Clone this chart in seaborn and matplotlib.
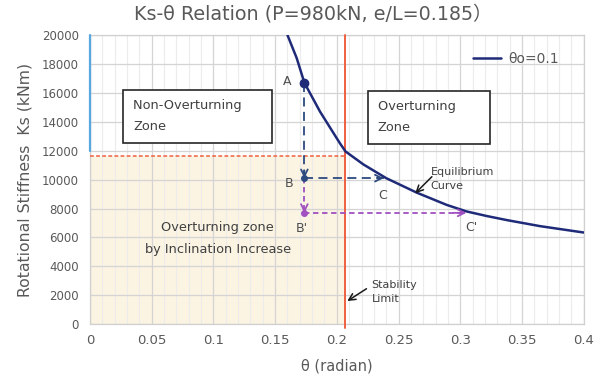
import numpy as np
import pandas as pd
import matplotlib
matplotlib.use("Agg")
import matplotlib.pyplot as plt
import seaborn as sns
from matplotlib.ticker import MultipleLocator
from matplotlib.patches import Rectangle

# Equilibrium curve (theta in radian, Ks in kNm)
theta = [0.160, 0.1675, 0.1737, 0.1864, 0.200, 0.2026, 0.207, 0.2215, 0.240, 0.2647,
         0.289, 0.305, 0.3215, 0.3377, 0.3647, 0.400]
ks = [20000, 18400, 16700, 14700, 12850, 12500, 11950, 11050, 10100, 9100,
      8250, 7800, 7480, 7200, 6780, 6340]

# Key states
theta_limit = 0.207       # stability limit
ks_limit = 11600          # stiffness limit of the overturning zone
point_names = ["A", "B", "C", "B'", "C'"]
point_theta = [0.1737, 0.1737, 0.238, 0.1737, 0.305]
point_ks = [16700, 10100, 10100, 7700, 7700]

x_ticks = [0, 0.05, 0.1, 0.15, 0.2, 0.25, 0.3, 0.35, 0.4]
x_tick_labels = ["0", "0.05", "0.1", "0.15", "0.2", "0.25", "0.3", "0.35", "0.4"]
y_ticks = list(range(0, 20001, 2000))

sns.set_theme(style="white")
plt.rcParams["font.family"] = ["DejaVu Sans", "Noto Sans CJK JP"]

GREY = "#595959"
NAVY = "#1f2b78"
NAVY2 = "#2d4a80"
PURPLE = "#a050c0"
RED = "#ef6040"

fig = plt.figure(figsize=(6.08, 3.85), dpi=100)
ax = fig.add_axes([0.148, 0.158, 0.812, 0.751])

df = pd.DataFrame({"theta": theta, "Ks": ks})
sns.lineplot(data=df, x="theta", y="Ks", sort=False, color=NAVY, lw=1.8,
             label="θo=0.1", ax=ax, zorder=6)

ax.set_xlim(0, 0.4)
ax.set_ylim(0, 20000)
ax.set_xticks(x_ticks)
ax.set_xticklabels(x_tick_labels)
ax.set_yticks(y_ticks)
ax.xaxis.set_minor_locator(MultipleLocator(0.01))
ax.grid(which="major", color="#d4d4d4", lw=0.9, zorder=1)
ax.grid(which="minor", axis="x", color="#ececec", lw=0.8, zorder=1)
ax.set_axisbelow(True)
ax.tick_params(axis="x", which="both", length=0, labelsize=9.5, labelcolor=GREY, pad=7)
ax.tick_params(axis="y", which="both", length=0, labelsize=8.5, labelcolor=GREY, pad=8)
for s in ax.spines.values():
    s.set_color("#d0d0d0")
    s.set_linewidth(0.9)

# Overturning zone by inclination increase
ax.add_patch(Rectangle((0, 0), theta_limit, ks_limit, facecolor="#fbf4e2",
                       edgecolor="none", zorder=0.5))
ax.plot([0, theta_limit], [ks_limit, ks_limit], color=RED, lw=1.1, ls=(0, (2.5, 1.5)), zorder=4)
ax.plot([theta_limit, theta_limit], [-250, 20000], color=RED, lw=1.4, zorder=5, clip_on=False)
ax.plot([0, 0], [12000, 20000], color="#5aa8e0", lw=1.6, zorder=5, clip_on=False)

# Paths A -> B -> C and B -> B' -> C'
pa, pb, pc, pb2, pc2 = [(t, k) for t, k in zip(point_theta, point_ks)]

def dashed_arrow(p0, p1, color, dash):
    ax.plot([p0[0], p1[0]], [p0[1], p1[1]], color=color, lw=1.3, ls=dash, zorder=5)
    dx = (p1[0] - p0[0]) * 0.08
    dy = (p1[1] - p0[1]) * 0.08
    ax.annotate("", xy=p1, xytext=(p1[0] - dx, p1[1] - dy),
                arrowprops=dict(arrowstyle="->", color=color, lw=1.3,
                                shrinkA=0, shrinkB=0, mutation_scale=12), zorder=6)

dashed_arrow(pa, pb, NAVY2, (0, (5, 3)))
dashed_arrow(pb, pc, NAVY2, (0, (5, 3)))
dashed_arrow(pb, pb2, PURPLE, (0, (3, 2)))
dashed_arrow(pb2, pc2, PURPLE, (0, (3, 2)))

ax.plot(*pa, "o", color=NAVY, ms=6, zorder=7)
ax.plot(*pb, "o", color=NAVY2, ms=4, zorder=7)
ax.plot(*pb2, "o", color=PURPLE, ms=4, zorder=7)

lab = dict(fontsize=9, color="#4d4d4d", zorder=8)
ax.text(pa[0] - 0.014, pa[1] + 100, "A", ha="center", va="center", **lab)
ax.text(pb[0] - 0.012, pb[1] - 400, "B", ha="center", va="center", **lab)
ax.text(pc[0] - 0.001, pc[1] - 1200, "C", ha="center", va="center", **lab)
ax.text(pb2[0] - 0.002, pb2[1] - 1050, "B'", ha="center", va="center", **lab)
ax.text(pc2[0] + 0.004, pc2[1] - 1000, "C'", ha="center", va="center", **lab)

# Zone boxes
box = dict(boxstyle="square,pad=0.75", facecolor="white", edgecolor="#262626", lw=1.2)
ax.text(0.035, 14380, "Non-Overturning     \nZone", fontsize=9.3, color="#404040",
        ha="left", va="center", linespacing=1.8, bbox=box, zorder=8)
ax.text(0.233, 14300, "Overturning      \nZone", fontsize=9.3, color="#404040",
        ha="left", va="center", linespacing=1.8, bbox=box, zorder=8)

ax.text(0.1035, 5900, "Overturning zone\nby Inclination Increase", fontsize=9.3,
        color="#404040", ha="center", va="center", linespacing=1.9, zorder=8)

ax.text(0.276, 10050, "Equilibrium\nCurve", fontsize=8, color="#404040",
        ha="left", va="center", linespacing=1.5, zorder=8)
ax.annotate("", xy=(0.2635, 9050), xytext=(0.277, 10200),
            arrowprops=dict(arrowstyle="->", color="#1a1a1a", lw=1.1, shrinkA=0, shrinkB=0),
            zorder=8)
ax.text(0.228, 2200, "Stability\nLimit", fontsize=8, color="#404040",
        ha="left", va="center", linespacing=1.5, zorder=8)
ax.annotate("", xy=(0.2085, 1600), xytext=(0.224, 2450),
            arrowprops=dict(arrowstyle="->", color="#1a1a1a", lw=1.1, shrinkA=0, shrinkB=0),
            zorder=8)

leg = ax.legend(loc="upper right", bbox_to_anchor=(0.975, 0.985), frameon=False,
                fontsize=10, handlelength=2.0, handletextpad=0.5)
for t in leg.get_texts():
    t.set_color(GREY)

ax.set_title("Ks-θ Relation (P=980kN, e/L=0.185）", fontsize=13.8, color=GREY,
             pad=11, x=0.451)
ax.set_xlabel("θ (radian)", fontsize=10.5, color=GREY, labelpad=8)
ax.set_ylabel("Rotational Stiffness  Ks (kNm)", fontsize=11.3, color=GREY, labelpad=7)

fig.savefig("out.png", dpi=100)
